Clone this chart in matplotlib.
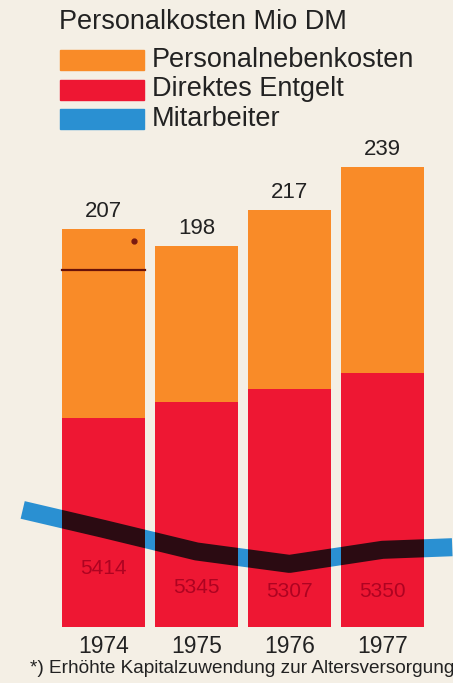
import matplotlib
matplotlib.use('Agg')
import matplotlib.pyplot as plt
import numpy as np
from matplotlib.patches import Rectangle

plt.rcParams['font.family'] = ['Liberation Sans', 'DejaVu Sans']

years = ['1974', '1975', '1976', '1977']
totals = [207, 198, 217, 239]
direkt = [108.5, 117, 124, 132]
neben = [t - d for t, d in zip(totals, direkt)]
mitarbeiter = [5414, 5345, 5307, 5350]
# line runs on past both edges of the chart
mitarbeiter_left = 5472
mitarbeiter_right = 5358
normal_1974 = 185.5  # level without the extra pension allocation

orange = '#f98b28'
red = '#ee1733'
blue = '#2a90d2'
dark = '#2b0b12'
bg = '#f4efe5'
txt = '#222222'

fig = plt.figure(figsize=(4.53, 6.83), dpi=100, facecolor=bg)
ax = fig.add_axes([0.126, 0.082, 0.821, 0.732])
ax.set_facecolor('none')
ax.set_xlim(-0.5, 3.5)
ax.set_ylim(0, 260)
ax.axis('off')

x = np.arange(len(years))
w = 0.89
red_bars = ax.bar(x, direkt, width=w, color=red, zorder=2)
ax.bar(x, neben, bottom=direkt, width=w, color=orange, zorder=2)

for xi, t in zip(x, totals):
    ax.annotate(str(t), (xi, t), xytext=(0, 5), textcoords='offset points',
                ha='center', va='bottom', fontsize=16, color=txt)

for xi, y in zip(x, years):
    ax.text(xi, -13.5, y, ha='center', va='baseline', fontsize=16.5, color=txt)

# 1974: extra pension allocation marker
ax.plot([-w / 2, w / 2], [normal_1974, normal_1974], color='#6a1208', lw=1.6, zorder=3)
ax.plot([0.33], [totals[0] - 6.5], marker='o', ms=3.5, color='#7a1a10', zorder=3)

# employees on a twin axis, blue behind bars, dark where it crosses the red part
ax2 = ax.twinx()
ax2.set_ylim(5114, 6643)
ax2.axis('off')
ax.set_zorder(2)
ax2.set_zorder(1)
lx = [-0.87] + list(x) + [3.75]
ly = [mitarbeiter_left] + mitarbeiter + [mitarbeiter_right]
ax2.plot(lx, ly, color=blue, lw=13, solid_capstyle='butt', clip_on=False)
for bar in red_bars:
    r = Rectangle(bar.get_xy(), bar.get_width(), bar.get_height(), transform=ax.transData)
    ln, = ax.plot(lx, ly, color=dark, lw=13, solid_capstyle='butt', zorder=5,
                  transform=ax2.transData)
    ln.set_clip_path(r)

lab_y = [30.5, 20.5, 18.7, 18.7]
for xi, m, yy in zip(x, mitarbeiter, lab_y):
    ax.text(xi, yy, str(m), ha='center', va='center', fontsize=15,
            color='#a3001e', alpha=0.85, zorder=6)

# title and legend
fig.text(59 / 453, 1 - 22 / 683, 'Personalkosten Mio DM', fontsize=19.5,
         va='center', ha='left', color=txt)
items = [('Personalnebenkosten', orange), ('Direktes Entgelt', red), ('Mitarbeiter', blue)]
for i, (lab, c) in enumerate(items):
    yc = 60 + i * 29.5
    fig.patches.append(Rectangle((60 / 453, 1 - (yc + 10) / 683), 84 / 453, 20 / 683,
                                 transform=fig.transFigure, color=c))
    fig.text(152 / 453, 1 - yc / 683, lab, fontsize=19.5, va='center', ha='left',
             color=txt)

fig.text(30 / 453, 1 - 673 / 683, '*) Erhöhte Kapitalzuwendung zur Altersversorgung',
         fontsize=13.7, va='baseline', ha='left', color=txt)

fig.savefig('out.png', dpi=100, facecolor=bg)
